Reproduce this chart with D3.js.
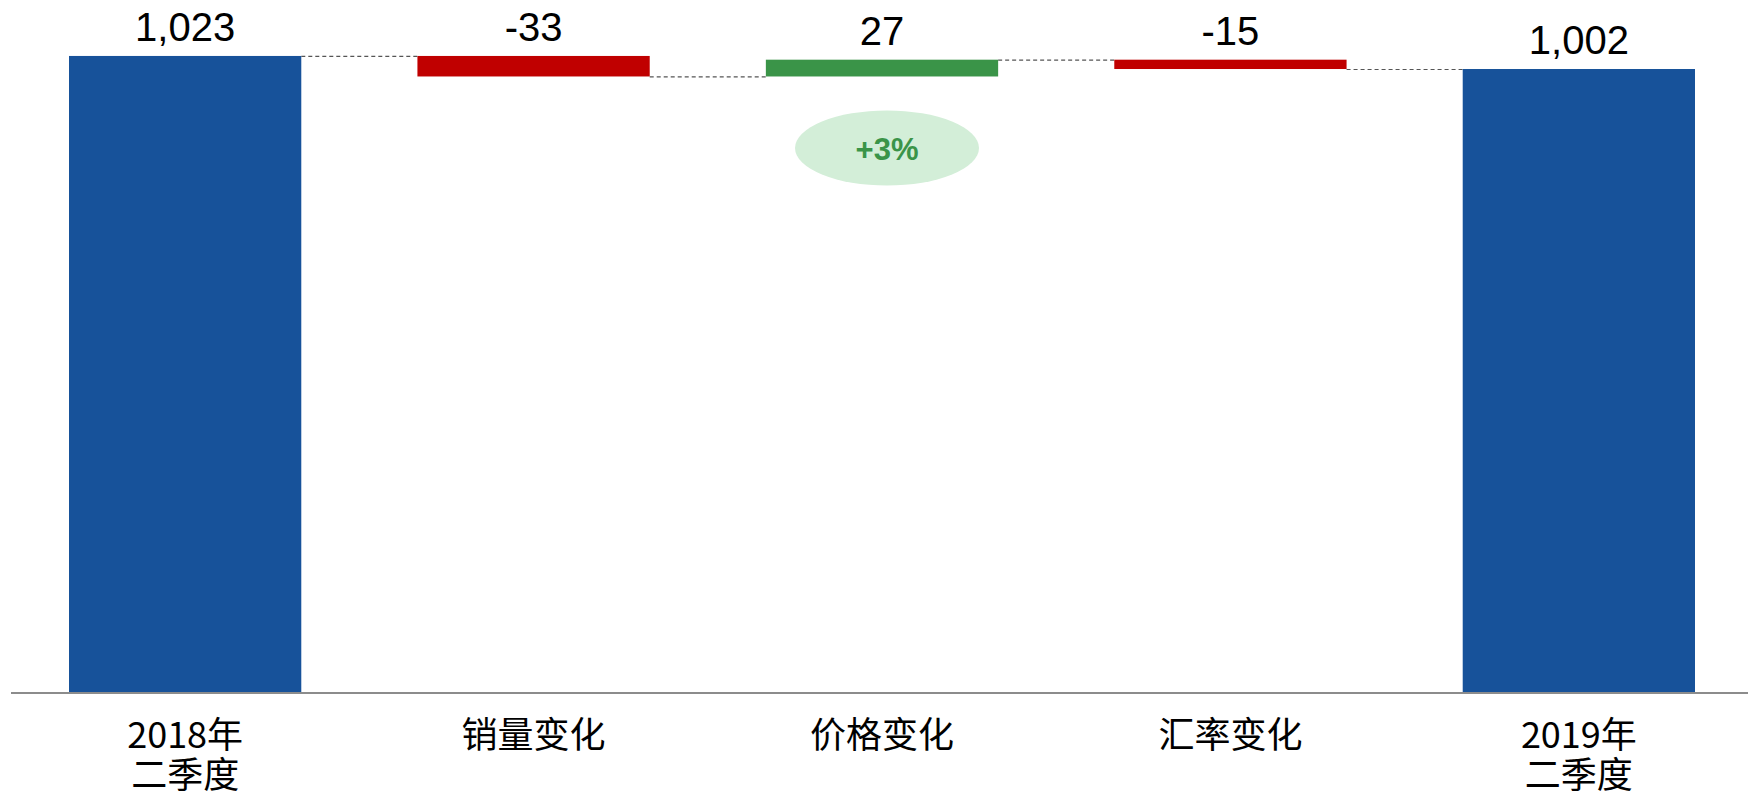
<!DOCTYPE html>
<html>
<head>
<meta charset="utf-8">
<script src="https://cdn.jsdelivr.net/npm/d3@7"></script>
<style>
  html, body { margin: 0; padding: 0; background: #fff; }
  svg { display: block; }
</style>
</head>
<body>
<script>
// waterfall data
const categories = [["2018年", "二季度"], ["销量变化"], ["价格变化"], ["汇率变化"], ["2019年", "二季度"]];
const values = [1023, -33, 27, -15, 1002];
const kinds = ["total", "delta", "delta", "delta", "total"];
const noteCategory = 2;
const noteText = "+3%";

const width = 1748;
const height = 797;
const baseY = 692;

const colors = { total: "#17529a", up: "#3a9448", down: "#c00000" };

// running totals -> start/end of each bar
let run = 0;
const rows = values.map(function(v, i) {
  let start, end;
  if (kinds[i] === "total") { start = 0; end = v; run = v; }
  else { start = run; end = run + v; run = end; }
  return { i: i, lines: categories[i], value: v, kind: kinds[i], start: start, end: end };
});

const x = d3.scaleBand()
  .domain(rows.map(function(d) { return d.i; }))
  .range([69, 1695])
  .paddingInner(1 / 3)
  .paddingOuter(0);

const y = d3.scaleLinear()
  .domain([0, 1113])
  .range([baseY, 0]);

// plain hyphen instead of d3's unicode minus
const fmt = function(v) { return d3.format(",")(v).replace("\u2212", "-"); };

const svg = d3.select("body").append("svg")
  .attr("width", width)
  .attr("height", height);

// dashed connectors between bars
const links = rows.slice(0, -1).map(function(d, i) {
  return { x1: x(d.i) + x.bandwidth(), x2: x(rows[i + 1].i), v: d.end };
});
svg.append("g").selectAll("line")
  .data(links)
  .join("line")
  .attr("x1", function(d) { return d.x1; })
  .attr("x2", function(d) { return d.x2; })
  .attr("y1", function(d) { return y(d.v) + 0.5; })
  .attr("y2", function(d) { return y(d.v) + 0.5; })
  .attr("stroke", "#555")
  .attr("stroke-width", 1.2)
  .attr("stroke-dasharray", "4,3");

// bars
svg.append("g").selectAll("rect")
  .data(rows)
  .join("rect")
  .attr("x", function(d) { return x(d.i); })
  .attr("width", x.bandwidth())
  .attr("y", function(d) { return y(Math.max(d.start, d.end)); })
  .attr("height", function(d) { return Math.abs(y(d.start) - y(d.end)); })
  .attr("fill", function(d) {
    if (d.kind === "total") return colors.total;
    return d.value >= 0 ? colors.up : colors.down;
  });

// value labels
svg.append("g").selectAll("text")
  .data(rows)
  .join("text")
  .attr("x", function(d) { return x(d.i) + x.bandwidth() / 2; })
  .attr("y", function(d) { return y(Math.max(d.start, d.end)) - 15; })
  .attr("text-anchor", "middle")
  .style("font-family", "'Liberation Sans', Arial, sans-serif")
  .style("font-size", "40px")
  .attr("fill", "#000")
  .text(function(d) { return fmt(d.value); });

// baseline
svg.append("line")
  .attr("x1", 11).attr("x2", width)
  .attr("y1", baseY + 1).attr("y2", baseY + 1)
  .attr("stroke", "#8c8c8c")
  .attr("stroke-width", 2);

// category labels
const cat = svg.append("g").selectAll("text")
  .data(rows)
  .join("text")
  .attr("text-anchor", "middle")
  .style("font-family", "'Noto Sans CJK SC', sans-serif")
  .style("font-size", "36px")
  .attr("fill", "#000");
cat.selectAll("tspan")
  .data(function(d) { return d.lines.map(function(t) { return { t: t, cx: x(d.i) + x.bandwidth() / 2 }; }); })
  .join("tspan")
  .attr("x", function(d) { return d.cx; })
  .attr("y", function(d, j) { return 748 + j * 40; })
  .text(function(d) { return d.t; });

// +3% bubble under the price bar
const nx = x(noteCategory) + x.bandwidth() / 2 + 5;
svg.append("ellipse")
  .attr("cx", nx)
  .attr("cy", 148)
  .attr("rx", 92)
  .attr("ry", 37.5)
  .attr("fill", "#d3eed8");
svg.append("text")
  .attr("x", nx)
  .attr("y", 160)
  .attr("text-anchor", "middle")
  .style("font-family", "'Liberation Sans', Arial, sans-serif")
  .style("font-size", "31px")
  .style("font-weight", "bold")
  .attr("fill", "#3a9448")
  .text(noteText);
</script>
</body>
</html>
